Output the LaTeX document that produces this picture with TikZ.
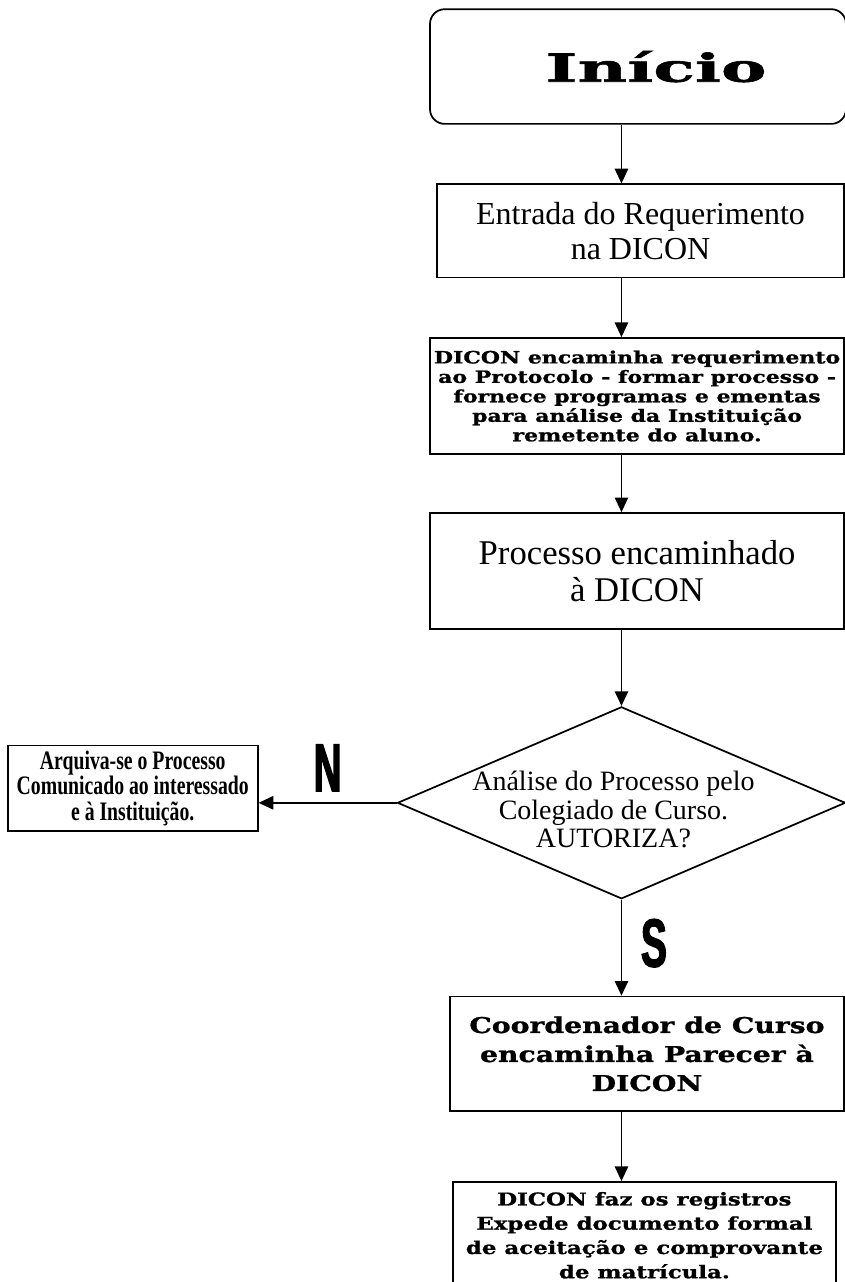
\documentclass[tikz,border=0pt]{standalone}
\usepackage{fontspec}
\setmainfont{Liberation Serif}
\newfontfamily\widefont[FakeStretch=1.3, FakeBold=1.2]{DejaVu Serif}
\newfontfamily\startfont[FakeStretch=1.77, FakeBold=1.5]{DejaVu Serif}
\newfontfamily\narrowfont[FakeStretch=0.74]{Liberation Serif}
\newfontfamily\letterfont[FakeStretch=0.57, FakeBold=2]{Liberation Sans}
\usetikzlibrary{shapes.geometric, positioning}
\usetikzlibrary{arrows.meta}
\tikzset{>={Triangle[width=10pt,length=11pt]}}

\begin{document}
\begin{tikzpicture}[line width=1.3pt, startnode/.style={rectangle, rounded corners=11pt, draw, minimum width=312pt, minimum height=86pt, inner sep=0pt, font={\startfont\bfseries\fontsize{29}{30}\selectfont}}, box/.style={rectangle, draw, align=center, inner sep=0pt}, decision/.style={diamond, draw, minimum width=336pt, minimum height=144pt, inner sep=0pt}, dectext/.style={align=center, inner sep=0pt, font={\fontsize{21}{21.5}\selectfont}}, letternode/.style={draw=none, inner sep=0pt, font={\letterfont\bfseries\fontsize{51}{51}\selectfont}}]

    \useasboundingbox (0,0) rectangle (633pt,-961.5pt);

    %Nodes
    \node[startnode](start) at (478.5pt,-49.9pt){\hspace*{27pt}Início};
    \node[box, minimum width=305pt, minimum height=70pt, font={\fontsize{24}{26}\selectfont}](entry)[below=44pt of start, xshift=1.9pt]{Entrada do Requerimento\\na DICON};
    \node[box, minimum width=310.5pt, minimum height=87pt, font={\widefont\bfseries\fontsize{12.7}{14.6}\selectfont}](forward)[below=44pt of entry, xshift=-2.6pt]{DICON encaminha requerimento\\ao Protocolo - formar processo -\\fornece programas e ementas\\para análise da Instituição\\remetente do aluno.};
    \node[box, minimum width=310.5pt, minimum height=87pt, font={\fontsize{26}{28}\selectfont}](process)[below=43pt of forward]{Processo encaminhado\\à DICON};
    \node[decision, label={[dectext, xshift=-6pt, yshift=-5pt]center:{Análise do Processo pelo\\Colegiado de Curso.\\AUTORIZA?}}](dec)[below=57pt of process, xshift=-11.7pt]{};
    \node[box, minimum width=187.5pt, minimum height=64pt, font={\narrowfont\bfseries\fontsize{20}{19}\selectfont}](archive)[left=103.5pt of dec, yshift=10.9pt]{Arquiva-se o Processo\\Comunicado ao interessado\\e à Instituição.};
    \node[box, minimum width=295.5pt, minimum height=86pt, font={\widefont\bfseries\fontsize{16.3}{21.75}\selectfont}](advice)[below=72pt of dec, xshift=19.1pt]{Coordenador de Curso\\encaminha Parecer à\\DICON};
    \node[box, minimum width=287pt, minimum height=80pt, font={\widefont\bfseries\fontsize{13.2}{18.2}\selectfont}](register)[below=51.75pt of advice, xshift=-1.9pt]{DICON faz os registros\\Expede documento formal\\de aceitação e comprovante\\de matrícula.};

    %Lines
    \draw[->] (start.south -| dec) -- (entry.north -| dec);
    \draw[->] (entry.south -| dec) -- (forward.north -| dec);
    \draw[->] (forward.south -| dec) -- (process.north -| dec);
    \draw[->] (process.south -| dec) -- (dec.north);
    \draw[->] (dec.west) -- node[letternode, above=8pt]{N} (dec.west -| archive.east);
    \draw[->] (dec.south) -- node[letternode, right=14pt, yshift=3.4pt]{S} (advice.north -| dec);
    \draw[->] (advice.south -| dec) -- (register.north -| dec);

\end{tikzpicture}
\end{document}
